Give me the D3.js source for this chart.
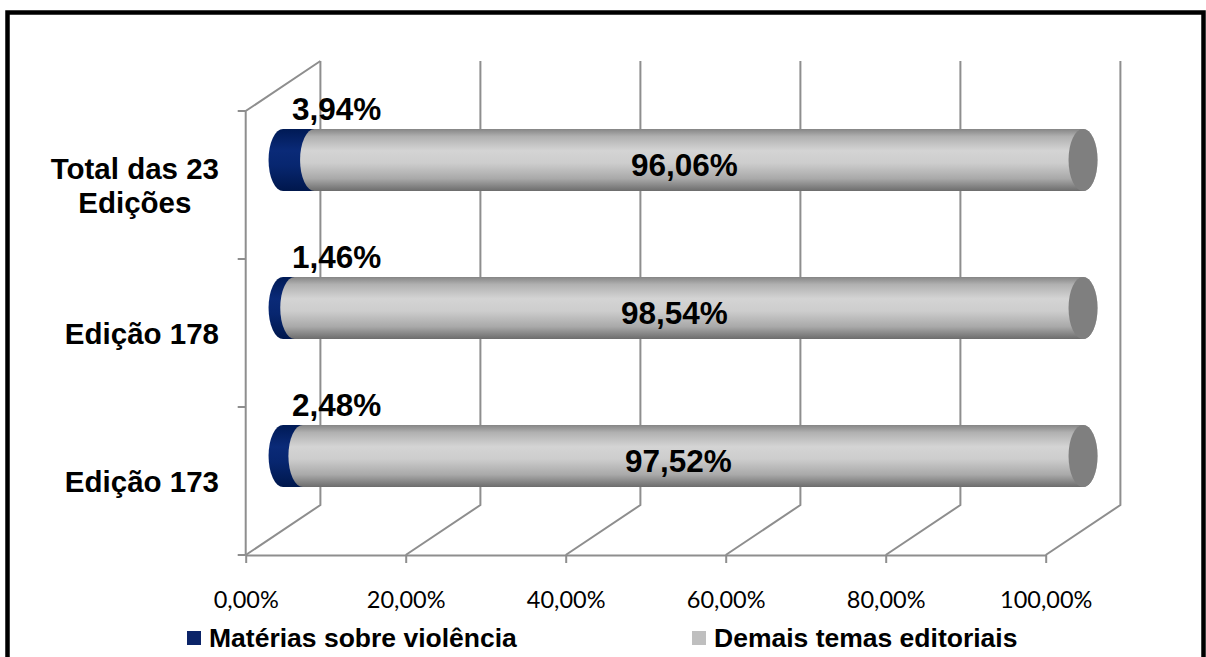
<!DOCTYPE html>
<html>
<head>
<meta charset="utf-8">
<script src="https://cdn.jsdelivr.net/npm/d3@7"></script>
<style>
  body { margin: 0; background: #fff; }
  svg { display: block; }
</style>
</head>
<body>
<div id="chart"></div>
<script>
// ----- ----- ----- ----- ----- ----- ----- ----- -----
// DATA
var categoryLines = [["Edição 173"], ["Edição 178"], ["Total das 23", "Edições"]];
var violencia = [2.48, 1.46, 3.94];
var demais = [97.52, 98.54, 96.06];
var seriesNames = ["Matérias sobre violência", "Demais temas editoriais"];
var seriesColors = ["#0b2468", "#bfbfbf"];
var xTicks = [0, 20, 40, 60, 80, 100];

// ----- ----- ----- ----- ----- ----- ----- ----- -----
// FIGURE
const size = { width: 1206, height: 657 };
const front = { left: 245.7, right: 1045.7, top: 111, bottom: 555 };
const depth = { dx: 74.7, dy: -50 };   // offset front -> back wall
const rx = 14.5;                       // end cap horizontal radius
const gridColor = "#8e8e8e";

var pctFormat = function (v) { return v.toFixed(2).replace(".", ",") + "%"; };

var svg = d3.select("#chart")
    .append("svg")
    .attr("width", size.width)
    .attr("height", size.height);

// gradients
var defs = svg.append("defs");
var gGray = defs.append("linearGradient").attr("id", "gradGray")
    .attr("x1", 0).attr("y1", 0).attr("x2", 0).attr("y2", 1);
[[0, "#858585"], [0.12, "#b0b0b0"], [0.35, "#d4d4d4"], [0.55, "#cdcdcd"], [0.8, "#a9a9a9"], [1, "#6c6c6c"]]
    .forEach(function (s) { gGray.append("stop").attr("offset", s[0]).attr("stop-color", s[1]); });
var gBlue = defs.append("linearGradient").attr("id", "gradBlue")
    .attr("x1", 0).attr("y1", 0).attr("x2", 0).attr("y2", 1);
[[0, "#001a55"], [0.35, "#0a2a78"], [0.6, "#07266f"], [1, "#00174c"]]
    .forEach(function (s) { gBlue.append("stop").attr("offset", s[0]).attr("stop-color", s[1]); });

// outer frame
svg.append("rect")
    .attr("x", 7.5).attr("y", 12.5)
    .attr("width", 1196).attr("height", 700)
    .attr("fill", "none")
    .attr("stroke", "#000")
    .attr("stroke-width", 4.5);

// scales
var x_scale = d3.scaleLinear()
    .domain([0, 100])
    .range([front.left, front.right]);

var y_scale = d3.scaleBand()
    .domain(d3.range(categoryLines.length))
    .range([front.bottom, front.top]);

// ----- back wall gridlines
var grid = svg.append("g").attr("stroke", gridColor).attr("stroke-width", 2).attr("fill", "none");
xTicks.forEach(function (t) {
    var xf = x_scale(t);
    grid.append("path")
        .attr("d", "M" + xf + "," + front.bottom +
            "L" + (xf + depth.dx) + "," + (front.bottom + depth.dy) +
            "L" + (xf + depth.dx) + "," + (front.top + depth.dy));
});
// left wall
grid.append("path")
    .attr("d", "M" + front.left + "," + front.bottom +
        "L" + front.left + "," + front.top +
        "L" + (front.left + depth.dx) + "," + (front.top + depth.dy));
// left wall ticks at band edges
d3.range(categoryLines.length + 1).forEach(function (i) {
    var yy = i < categoryLines.length ? y_scale(i) + y_scale.bandwidth() : front.top;
    grid.append("line")
        .attr("x1", front.left - 8).attr("x2", front.left)
        .attr("y1", yy).attr("y2", yy);
});

// ----- X axis (front floor edge)
var x_axis = d3.axisBottom(x_scale)
    .tickValues(xTicks)
    .tickSize(8)
    .tickSizeOuter(0)
    .tickPadding(28)
    .tickFormat(function (d) { return pctFormat(d); });

var gx = svg.append("g")
    .attr("transform", "translate(0," + front.bottom + ")")
    .call(x_axis);
gx.select(".domain").attr("stroke", gridColor).attr("stroke-width", 2);
gx.selectAll(".tick line").attr("stroke", gridColor).attr("stroke-width", 2);
gx.selectAll(".tick text")
    .attr("fill", "#000")
    .style("font-family", "Lato, 'Open Sans', sans-serif")
    .style("font-size", "23.5px");

// ----- Y category labels
var labelRight = 219;
categoryLines.forEach(function (lines, i) {
    var yc = y_scale(i) + y_scale.bandwidth() / 2;
    var g = svg.append("g");
    var texts = lines.map(function (l, k) {
        return g.append("text")
            .attr("y", yc + 11 + (k - (lines.length - 1) / 2) * 34)
            .style("font-family", "Arial, 'Liberation Sans', sans-serif")
            .style("font-weight", "bold")
            .style("font-size", "29.5px")
            .text(l);
    });
    var maxW = d3.max(texts, function (t) { return t.node().getComputedTextLength(); });
    texts.forEach(function (t) {
        t.attr("x", labelRight - maxW / 2).attr("text-anchor", "middle");
    });
});

// ----- cylinders
var barH = y_scale.bandwidth() * 0.42;
var ry = barH / 2;

function cylinderPath(x0, x1, yc) {
    return "M" + x0 + "," + (yc - ry) +
        "L" + x1 + "," + (yc - ry) +
        "A" + rx + "," + ry + " 0 0 1 " + x1 + "," + (yc + ry) +
        "L" + x0 + "," + (yc + ry) +
        "A" + rx + "," + ry + " 0 0 1 " + x0 + "," + (yc - ry) + "Z";
}

var labelStyle = function (t) {
    t.style("font-family", "Arial, 'Liberation Sans', sans-serif")
        .style("font-weight", "bold")
        .style("font-size", "31.5px")
        .attr("fill", "#000");
};

categoryLines.forEach(function (lines, i) {
    var yc = y_scale(i) + y_scale.bandwidth() / 2 + depth.dy / 2;
    var x0 = x_scale(0) + depth.dx / 2;
    var xb = x_scale(violencia[i]) + depth.dx / 2;
    var x1 = x_scale(violencia[i] + demais[i]) + depth.dx / 2;

    svg.append("path")
        .attr("d", cylinderPath(x0, xb, yc))
        .attr("fill", "url(#gradBlue)");
    svg.append("path")
        .attr("d", cylinderPath(xb, x1, yc))
        .attr("fill", "url(#gradGray)");
    svg.append("ellipse")
        .attr("cx", x1).attr("cy", yc)
        .attr("rx", rx).attr("ry", ry)
        .attr("fill", "#7f7f7f");

    // labels
    svg.append("text")
        .attr("x", x0 + 9)
        .attr("y", yc - ry - 9)
        .call(labelStyle)
        .text(pctFormat(violencia[i]));
    svg.append("text")
        .attr("x", (xb + x1) / 2 - rx)
        .attr("y", yc + 16)
        .attr("text-anchor", "middle")
        .call(labelStyle)
        .text(pctFormat(demais[i]));
});

// ----- legend
var legendX = [187, 692];
seriesNames.forEach(function (name, i) {
    svg.append("rect")
        .attr("x", legendX[i]).attr("y", 631)
        .attr("width", 14).attr("height", 14)
        .attr("fill", seriesColors[i]);
    svg.append("text")
        .attr("x", legendX[i] + 22)
        .attr("y", 647)
        .style("font-family", "Arial, 'Liberation Sans', sans-serif")
        .style("font-weight", "bold")
        .style("font-size", "26.5px")
        .text(name);
});
</script>
</body>
</html>
